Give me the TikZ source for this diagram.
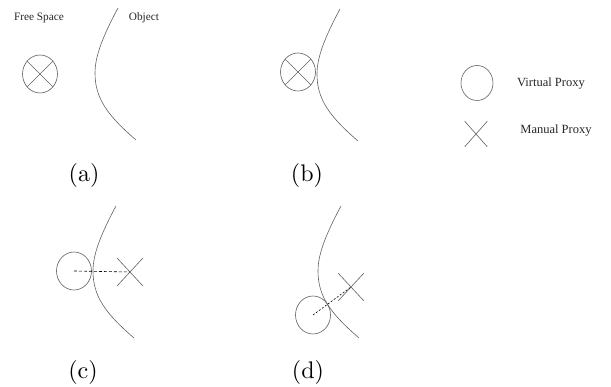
\documentclass[tikz,border=0pt]{standalone}
\usepackage{fontspec}
\setmainfont{Liberation Serif}
\newfontfamily\lmfont{lmroman10-regular}[Extension=.otf]
\usetikzlibrary{shapes.geometric,shapes.misc}
\tikzset{
  x=1pt, y=-1pt,
  linecol/.style={draw=black!62, line width=0.6pt},
  vproxy/.style={ellipse, linecol, minimum width=35pt, minimum height=38pt, inner sep=0pt},
  legproxy/.style={ellipse, linecol, minimum width=32pt, minimum height=35pt, inner sep=0pt},
  mproxy/.style={cross out, linecol, minimum width=25pt, minimum height=27pt, inner sep=0pt},
  legmproxy/.style={cross out, linecol, minimum width=22pt, minimum height=25pt, inner sep=0pt},
  smalltxt/.style={font=\fontsize{11.3}{13}\selectfont, inner sep=0pt, text=black!85},
  legtxt/.style={font=\fontsize{12.5}{14}\selectfont, inner sep=0pt, text=black!85},
  caption/.style={font=\lmfont\fontsize{24}{28}\selectfont, inner sep=0pt},
  dashline/.style={black, line width=0.6pt, dash pattern=on 3pt off 2pt},
  dotline/.style={black, line width=0.6pt, dash pattern=on 2pt off 1.7pt},
  objcurve/.pic={\draw[linecol] (23,-65) .. controls (8,-37) and (0,-17) .. (0,0) .. controls (0,25) and (12,42) .. (41,67);}
}
\begin{document}
\begin{tikzpicture}
\useasboundingbox (0,0) rectangle (611,387);
% (a)
\node[smalltxt] (fs) at (39,18) {Free Space};
\node[smalltxt] (ob) at (144,18) {Object};
\node[vproxy] (va) at (40,74) {};
\draw[linecol] (va.45) -- (va.225) (va.135) -- (va.315);
\pic at (95,73) {objcurve};
\node[caption] (la) at (84,176) {(a)};
% (b)
\node[vproxy] (vb) at (298,72) {};
\draw[linecol] (vb.45) -- (vb.225) (vb.135) -- (vb.315);
\pic at (317,74) {objcurve};
\node[caption] (lb) at (307,176) {(b)};
% legend
\node[legproxy] (lv) at (477,83) {};
\node[legtxt] (lvt) at (551,84) {Virtual Proxy};
\node[legmproxy] (lm) at (476,134) {};
\node[legtxt] (lmt) at (556,131) {Manual Proxy};
% (c)
\node[vproxy] (vc) at (74,271) {};
\node[mproxy] (mc) at (130,272) {};
\pic at (93,271) {objcurve};
\draw[dashline] (vc.center) -- (mc.center);
\node[caption] (lc) at (83,373) {(c)};
% (d)
\node[vproxy] (vd) at (313,315) {};
\node[mproxy] (md) at (351,287) {};
\pic at (318,271) {objcurve};
\draw[dotline] (vd.center) -- (md.center);
\node[caption] (ld) at (308,373) {(d)};
\end{tikzpicture}
\end{document}
